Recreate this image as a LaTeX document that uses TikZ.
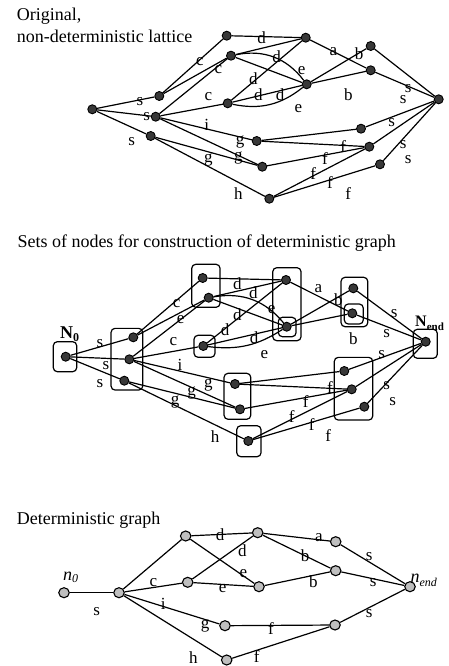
\documentclass[tikz,border=0pt]{standalone}
\usepackage{fontspec}
\setmainfont{Liberation Serif}
\usetikzlibrary{shapes.geometric}
\begin{document}
\begin{tikzpicture}[x=1pt,y=-1pt,
  dn/.style={circle,draw=black,fill=black!78,line width=0.9pt,inner sep=0pt,minimum size=9pt},
  ln/.style={ellipse,draw=black,fill=black!25,line width=1.1pt,inner sep=0pt,minimum width=10.5pt,minimum height=10pt},
  ed/.style={line width=1.2pt},
  lb/.style={inner sep=0pt,font=\fontsize{17}{17}\selectfont},
  ttl/.style={anchor=base west,inner sep=0pt,font=\fontsize{18}{22}\selectfont},
  grp/.style={draw=black,line width=1.2pt,rounded corners=4pt,inner sep=0pt}
]
\useasboundingbox (0,0) rectangle (448,666);

% ---------- Graph 1 ----------
\node[ttl] (t1a) at (16.7,20.7) {Original,};
\node[ttl] (t1b) at (16.7,42.7) {non-deterministic lattice};

\node[dn] (L0) at (92.3,109.3) {};
\node[dn] (A) at (159.3,96) {};
\node[dn] (B) at (155.7,116.7) {};
\node[dn] (C) at (150.7,136) {};
\node[dn] (D) at (226.7,35.7) {};
\node[dn] (E) at (231,55.7) {};
\node[dn] (F) at (305.7,37.7) {};
\node[dn] (G) at (227.7,103.3) {};
\node[dn] (H) at (306.7,84.3) {};
\node[dn] (I) at (370.7,46) {};
\node[dn] (J) at (370.7,70.3) {};
\node[dn] (R) at (438.7,99.3) {};
\node[dn] (K) at (256.7,141) {};
\node[dn] (L) at (262.3,166.7) {};
\node[dn] (M) at (361,128.7) {};
\node[dn] (N) at (369.3,146.7) {};
\node[dn] (O) at (380,164.3) {};
\node[dn] (P) at (269.3,198.7) {};

\begin{scope}[ed]
\draw (L0)--(A); \draw (L0)--(B); \draw (L0)--(C);
\draw (A)--(D); \draw (A)--(E); \draw (B)--(E); \draw (B)--(G);
\draw (D)--(F); \draw (E)--(F); \draw (E)--(H); \draw (E) to[bend left=32] (H);
\draw (G)--(F); \draw (G)--(H); \draw (G) to[bend right=25] (H);
\draw (F)--(J); \draw (H)--(I); \draw (H)--(J);
\draw (I)--(R); \draw (J)--(R);
\draw (B)--(K); \draw (B)--(L); \draw (C)--(L); \draw (C)--(P);
\draw (K)--(M); \draw (K)--(N); \draw (L)--(N); \draw (P)--(N); \draw (P)--(O);
\draw (M)--(R); \draw (N)--(R); \draw (O)--(R);
\end{scope}

\node[lb] (l1) at (140,101.7) {s};
\node[lb] (l2) at (146.7,116.7) {s};
\node[lb] (l3) at (131.7,141.7) {s};
\node[lb] (l4) at (200,61.7) {c};
\node[lb] (l5) at (218.3,70) {c};
\node[lb] (l6) at (208.3,96.7) {c};
\node[lb] (l7) at (261.7,37.3) {d};
\node[lb] (l8) at (276.7,56.7) {d};
\node[lb] (l9) at (301.7,70.7) {e};
\node[lb] (l10) at (253.3,78.3) {d};
\node[lb] (l11) at (258.3,95) {d};
\node[lb] (l12) at (280,95) {d};
\node[lb] (l13) at (298.3,108.3) {e};
\node[lb] (l14) at (333.3,51.7) {a};
\node[lb] (l15) at (359,53.3) {b};
\node[lb] (l16) at (348.3,94.3) {b};
\node[lb] (l17) at (408.3,88.3) {s};
\node[lb] (l18) at (403.3,100) {s};
\node[lb] (l19) at (391.7,122.7) {s};
\node[lb] (l20) at (403.3,144.3) {s};
\node[lb] (l21) at (408.3,159.3) {s};
\node[lb] (l22) at (206.7,125) {i};
\node[lb] (l23) at (240,141.7) {g};
\node[lb] (l24) at (238.3,158.3) {g};
\node[lb] (l25) at (208.3,160) {g};
\node[lb] (l26) at (238.3,193.3) {h};
\node[lb] (l27) at (343.3,146.7) {f};
\node[lb] (l28) at (325,158.3) {f};
\node[lb] (l29) at (313.3,173.3) {f};
\node[lb] (l30) at (330,182.7) {f};
\node[lb] (l31) at (348.3,193.3) {f};

% ---------- Graph 2 ----------
\node[ttl] (t2) at (17.3,247.3) {Sets of nodes for construction of deterministic graph};

\node[grp,minimum width=23.4pt,minimum height=30pt] (b0) at (65,356.7) {};
\node[grp,minimum width=31.7pt,minimum height=61.7pt] (bABC) at (126.9,359.2) {};
\node[grp,minimum width=28.3pt,minimum height=43pt] (bDE) at (205.9,285.8) {};
\node[grp,minimum width=21pt,minimum height=22pt] (bG) at (204.5,346.3) {};
\node[grp,minimum width=28.3pt,minimum height=73pt] (bFH) at (286.9,304.2) {};
\node[grp,minimum width=17.7pt,minimum height=19.4pt] (bH) at (287.2,327) {};
\node[grp,minimum width=26.7pt,minimum height=49.4pt] (bIJ) at (354.4,302) {};
\node[grp,minimum width=19pt,minimum height=20pt] (bJ) at (353.8,314) {};
\node[grp,minimum width=24pt,minimum height=29pt] (bR) at (425.3,343.8) {};
\node[grp,minimum width=26.7pt,minimum height=46pt] (bKL) at (237.4,396.3) {};
\node[grp,minimum width=38.4pt,minimum height=62.7pt] (bMNO) at (353.5,388.7) {};
\node[grp,minimum width=24.3pt,minimum height=31pt] (bP) at (248.9,441.2) {};

\node[dn] (N0) at (65.7,356.7) {};
\node[dn] (A2) at (133.3,337.3) {};
\node[dn] (B2) at (129.3,359.3) {};
\node[dn] (C2) at (124.3,380.7) {};
\node[dn] (D2) at (202.7,278) {};
\node[dn] (E2) at (208.7,297.7) {};
\node[dn] (F2) at (286,280) {};
\node[dn] (G2) at (203.3,346) {};
\node[dn] (H2) at (286.7,326.7) {};
\node[dn] (I2) at (353.3,288.3) {};
\node[dn] (J2) at (352.3,313.3) {};
\node[dn] (R2) at (425.7,341.7) {};
\node[dn] (K2) at (235,384) {};
\node[dn] (L2) at (240,409.3) {};
\node[dn] (M2) at (344.3,371) {};
\node[dn] (N2) at (351.7,389.3) {};
\node[dn] (O2) at (364.3,406.7) {};
\node[dn] (P2) at (248.3,441) {};

\begin{scope}[ed]
\draw (N0)--(A2); \draw (N0)--(B2); \draw (N0)--(C2);
\draw (A2)--(D2); \draw (A2)--(E2); \draw (B2)--(E2); \draw (B2)--(G2);
\draw (D2)--(F2); \draw (E2)--(F2); \draw (E2)--(H2); \draw (E2) to[bend left=30] (H2);
\draw (G2)--(F2); \draw (G2)--(H2); \draw (G2) to[bend right=20] (H2);
\draw (F2)--(J2); \draw (H2)--(I2); \draw (H2)--(J2);
\draw (I2)--(R2); \draw (J2)--(R2);
\draw (B2)--(K2); \draw (B2)--(L2); \draw (C2)--(L2); \draw (C2)--(P2);
\draw (K2)--(M2); \draw (K2)--(N2); \draw (L2)--(N2); \draw (P2)--(N2); \draw (P2)--(O2);
\draw (M2)--(R2); \draw (N2)--(R2); \draw (O2)--(R2);
\end{scope}

\node[anchor=base west,inner sep=0pt,font=\fontsize{18}{18}\selectfont\bfseries] (n0l) at (60,338.3) {N\raisebox{-0.35ex}{\fontsize{12}{12}\selectfont 0}};
\node[anchor=base west,inner sep=0pt,font=\fontsize{16}{16}\selectfont\bfseries] (nel) at (415,326.7) {N\raisebox{-0.45ex}{\fontsize{11}{11}\selectfont end}};

\node[lb] (m1) at (100,343.3) {s};
\node[lb] (m2) at (106,365.7) {s};
\node[lb] (m3) at (100,383.3) {s};
\node[lb] (m4) at (176.7,303.3) {c};
\node[lb] (m5) at (180.7,319.3) {e};
\node[lb] (m6) at (173.3,341.7) {c};
\node[lb] (m7) at (237.3,283.3) {d};
\node[lb] (m8) at (253.3,292.7) {d};
\node[lb] (m9) at (271.7,310) {e};
\node[lb] (m10) at (237.3,315) {d};
\node[lb] (m11) at (225,330) {d};
\node[lb] (m12) at (254,337.7) {d};
\node[lb] (m13) at (264.3,355) {e};
\node[lb] (m14) at (318.3,288.3) {a};
\node[lb] (m15) at (338.3,300) {b};
\node[lb] (m16) at (353.3,338.3) {b};
\node[lb] (m17) at (394.3,313.3) {s};
\node[lb] (m18) at (386.7,333.3) {s};
\node[lb] (m19) at (381.7,355) {s};
\node[lb] (m20) at (386.7,386) {s};
\node[lb] (m21) at (392.7,401.7) {s};
\node[lb] (m22) at (180,365) {i};
\node[lb] (m23) at (208.3,385) {g};
\node[lb] (m24) at (191.7,393.3) {g};
\node[lb] (m25) at (175,401.7) {g};
\node[lb] (m26) at (215,436.7) {h};
\node[lb] (m27) at (330,387.3) {f};
\node[lb] (m28) at (305.7,401.7) {f};
\node[lb] (m29) at (291.7,416.7) {f};
\node[lb] (m30) at (311.7,425) {f};
\node[lb] (m31) at (328.3,436) {f};

% ---------- Graph 3 ----------
\node[ttl] (t3) at (16.7,524) {Deterministic graph};

\node[ln] (q0) at (64,592.7) {};
\node[ln] (X) at (119,592.7) {};
\node[ln] (T1) at (185.7,536) {};
\node[ln] (T2) at (257.7,532.7) {};
\node[ln] (T3) at (335.7,541.7) {};
\node[ln] (U1) at (187.7,582.3) {};
\node[ln] (U2) at (259,586.7) {};
\node[ln] (U3) at (335.7,570.7) {};
\node[ln] (QE) at (410,586.7) {};
\node[ln] (V1) at (225,625.7) {};
\node[ln] (V2) at (335,625) {};
\node[ln] (W1) at (226.7,660) {};

\begin{scope}[ed]
\draw (q0)--(X);
\draw (X)--(T1); \draw (X)--(U1); \draw (X)--(V1); \draw (X)--(W1);
\draw (T1)--(T2); \draw (T1)--(U2); \draw (U1)--(T2); \draw (U1)--(U2);
\draw (T2)--(T3); \draw (T2)--(U3); \draw (U2)--(U3);
\draw (T3)--(QE); \draw (U3)--(QE);
\draw (V1)--(V2); \draw (W1)--(V2); \draw (V2)--(QE);
\end{scope}

\node[anchor=base west,inner sep=0pt,font=\fontsize{18}{18}\selectfont\itshape] (q0l) at (63,580) {n\raisebox{-0.3ex}{\fontsize{12}{12}\selectfont 0}};
\node[anchor=base west,inner sep=0pt,font=\fontsize{18}{18}\selectfont\itshape] (qel) at (410.3,582.7) {n\raisebox{-0.5ex}{\fontsize{12}{12}\selectfont end}};

\node[lb] (k1) at (96.7,611.7) {s};
\node[lb] (k2) at (153.3,582.7) {c};
\node[lb] (k3) at (163.3,604) {i};
\node[lb] (k4) at (205,625.7) {g};
\node[lb] (k5) at (193.3,657.8) {h};
\node[lb] (k6) at (220,535) {d};
\node[lb] (k7) at (243.3,573.3) {e};
\node[lb] (k8) at (242.3,550.7) {d};
\node[lb] (k9) at (222.7,589) {e};
\node[lb] (k10) at (319,537.3) {a};
\node[lb] (k11) at (305,555.7) {b};
\node[lb] (k12) at (313.3,581.7) {b};
\node[lb] (k13) at (369.3,556.7) {s};
\node[lb] (k14) at (373.3,582.7) {s};
\node[lb] (k15) at (271,629) {f};
\node[lb] (k16) at (256.7,656.7) {f};
\node[lb] (k17) at (369.3,614) {s};
\end{tikzpicture}
\end{document}
